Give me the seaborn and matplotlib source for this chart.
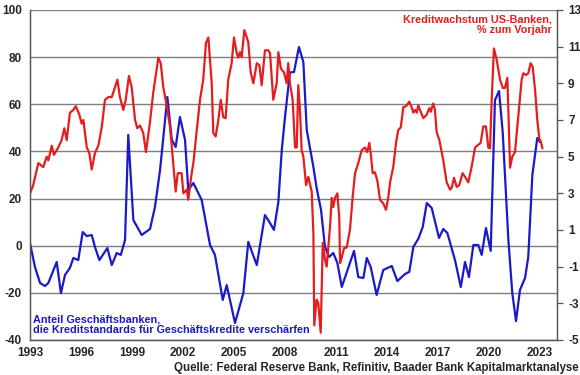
import pandas as pd
import matplotlib
matplotlib.use("Agg")
import matplotlib.pyplot as plt
import seaborn as sns

# -----------------------------------------------------------------------------
# 1. DATA
# -----------------------------------------------------------------------------
# Kreditwachstum US-Banken, % zum Vorjahr (right axis)
credit_years = [
    1993.00, 1993.19, 1993.49, 1993.78, 1993.98, 1994.08, 1994.28, 1994.41, 1994.66, 1994.86,
    1995.02, 1995.16, 1995.35, 1995.55, 1995.69, 1995.90, 1996.04, 1996.14, 1996.34, 1996.49,
    1996.63, 1996.82, 1997.02, 1997.22, 1997.41, 1997.61, 1997.81, 1997.90, 1998.14, 1998.29,
    1998.49, 1998.63, 1998.82, 1998.98, 1999.18, 1999.31, 1999.47, 1999.66, 1999.82, 2000.06,
    2000.25, 2000.55, 2000.69, 2000.84, 2001.04, 2001.24, 2001.39, 2001.57, 2001.69, 2001.92,
    2002.02, 2002.22, 2002.31, 2002.51, 2002.61, 2002.81, 2003.00, 2003.19, 2003.35, 2003.49,
    2003.69, 2003.78, 2003.92, 2004.08, 2004.22, 2004.37, 2004.51, 2004.66, 2004.86, 2005.00,
    2005.16, 2005.25, 2005.35, 2005.45, 2005.61, 2005.84, 2005.98, 2006.14, 2006.34, 2006.49,
    2006.63, 2006.82, 2007.02, 2007.12, 2007.31, 2007.51, 2007.61, 2007.76, 2007.94, 2008.10,
    2008.19, 2008.29, 2008.45, 2008.59, 2008.69, 2008.78, 2008.88, 2008.98, 2009.08, 2009.24,
    2009.37, 2009.57, 2009.67, 2009.72, 2009.86, 2009.96, 2010.10, 2010.22, 2010.35, 2010.45,
    2010.65, 2010.75, 2010.84, 2010.94, 2011.08, 2011.19, 2011.24, 2011.34, 2011.47, 2011.63,
    2011.82, 2011.98, 2012.12, 2012.31, 2012.51, 2012.71, 2012.84, 2012.96, 2013.04, 2013.16,
    2013.29, 2013.43, 2013.59, 2013.78, 2013.94, 2014.08, 2014.18, 2014.37, 2014.53, 2014.66,
    2014.81, 2014.96, 2015.12, 2015.31, 2015.45, 2015.55, 2015.65, 2015.75, 2015.84, 2015.94,
    2016.14, 2016.34, 2016.49, 2016.57, 2016.72, 2016.82, 2016.92, 2017.08, 2017.31, 2017.51,
    2017.71, 2017.81, 2017.94, 2018.10, 2018.25, 2018.45, 2018.59, 2018.78, 2018.98, 2019.18,
    2019.37, 2019.51, 2019.66, 2019.82, 2019.96, 2020.06, 2020.16, 2020.29, 2020.45, 2020.65,
    2020.81, 2020.94, 2021.08, 2021.24, 2021.37, 2021.53, 2021.72, 2021.92, 2022.02, 2022.18,
    2022.31, 2022.45, 2022.57, 2022.71, 2022.84, 2022.96, 2023.06, 2023.14,
]
credit_growth = [
    3.0, 3.45, 4.65, 4.43, 5.0, 4.8, 5.6, 5.1, 5.5, 5.9,
    6.55, 5.9, 7.4, 7.55, 7.75, 7.3, 6.8, 7.0, 5.5, 5.2,
    4.3, 5.2, 5.6, 6.6, 8.1, 8.25, 8.25, 8.5, 9.2, 8.25,
    7.55, 8.1, 9.4, 8.8, 7.0, 6.55, 6.7, 6.3, 5.25, 6.9,
    8.5, 10.4, 10.1, 8.8, 7.8, 6.6, 5.0, 3.1, 4.1, 4.1,
    3.0, 3.2, 2.65, 4.1, 4.65, 6.45, 8.1, 9.2, 11.2, 11.5,
    9.0, 6.3, 6.1, 7.0, 8.1, 7.15, 7.1, 9.2, 10.1, 11.5,
    10.65, 10.4, 10.7, 10.45, 11.9, 11.25, 9.6, 9.0, 10.1, 10.0,
    8.9, 10.8, 10.8, 10.65, 8.1, 9.0, 10.7, 9.8, 9.6, 9.0,
    10.1, 9.0, 8.1, 5.5, 5.5, 8.9, 7.55, 5.35, 5.0, 3.45,
    3.9, 3.1, 0.83, -4.2, -2.8, -3.0, -4.6, 0.3, -0.6, -1.0,
    1.2, 2.75, 2.25, 2.75, 3.0, 1.7, -0.8, -0.5, 0.0, 0.05,
    1.0, 2.8, 4.1, 4.65, 5.35, 5.5, 5.25, 5.75, 5.2, 4.1,
    4.15, 3.7, 2.65, 2.45, 2.1, 2.8, 3.6, 4.45, 5.75, 6.45,
    6.6, 7.7, 7.75, 8.0, 7.7, 7.4, 7.55, 7.4, 7.8, 7.55,
    7.1, 7.3, 7.65, 7.45, 7.9, 7.55, 6.35, 5.9, 4.8, 3.6,
    3.2, 3.3, 3.85, 3.35, 3.45, 4.1, 3.9, 3.6, 4.45, 5.5,
    5.65, 5.75, 6.65, 6.65, 5.5, 5.45, 8.1, 10.9, 10.3, 9.2,
    8.75, 8.75, 9.3, 4.4, 5.0, 5.25, 7.15, 9.2, 9.55, 9.45,
    9.55, 10.1, 9.9, 8.65, 7.0, 6.0, 5.8, 5.45,
]

# Anteil Geschaeftsbanken, die Kreditstandards verschaerfen (left axis)
sloos_years = [
    1993.00, 1993.29, 1993.59, 1993.88, 1994.08, 1994.57, 1994.82, 1995.06, 1995.35, 1995.55,
    1995.84, 1996.10, 1996.34, 1996.63, 1996.82, 1997.08, 1997.55, 1997.81, 1998.10, 1998.34,
    1998.59, 1998.78, 1999.08, 1999.57, 2000.06, 2000.35, 2000.65, 2001.08, 2001.34, 2001.57,
    2001.82, 2002.12, 2002.31, 2002.61, 2003.10, 2003.59, 2003.88, 2004.34, 2004.57, 2005.06,
    2005.55, 2005.84, 2006.34, 2006.82, 2007.08, 2007.35, 2007.61, 2007.81, 2008.00, 2008.29,
    2008.53, 2008.82, 2009.08, 2009.28, 2009.67, 2009.86, 2010.12, 2010.35, 2010.59, 2010.84,
    2011.08, 2011.34, 2012.06, 2012.31, 2012.61, 2012.81, 2013.04, 2013.39, 2013.78, 2014.28,
    2014.61, 2015.06, 2015.31, 2015.55, 2015.84, 2016.10, 2016.34, 2016.63, 2017.06, 2017.31,
    2017.55, 2018.00, 2018.34, 2018.59, 2018.82, 2019.08, 2019.37, 2019.57, 2019.82, 2020.10,
    2020.35, 2020.59, 2020.81, 2021.14, 2021.37, 2021.59, 2021.82, 2022.12, 2022.31, 2022.55,
    2022.84, 2023.00,
]
sloos_share = [
    1.15, -9.0, -15.8, -17.1, -15.8, -6.9, -20.1, -12.4, -9.4, -5.2,
    -6.1, 5.8, 4.1, 4.55, -0.5, -6.1, -1.0, -8.2, -3.1, -3.9,
    2.4, 47.0, 10.9, 4.55, 7.1, 16.4, 32.1, 63.1, 44.9, 41.9,
    54.6, 44.9, 23.6, 26.6, 19.4, 0.3, -3.9, -23.0, -16.7, -32.8,
    -20.1, 1.6, -8.2, 13.0, 10.1, 6.7, 18.6, 40.6, 54.6, 73.5,
    73.7, 84.3, 77.9, 49.1, 33.4, 24.5, 15.2, -0.5, -4.8, -3.1,
    -7.3, -17.5, -2.2, -13.3, -13.7, -5.2, -9.0, -20.9, -10.3, -8.6,
    -15.0, -12.0, -11.1, -0.5, 2.9, 7.9, 18.1, 16.0, 3.3, 7.1,
    5.4, -6.1, -17.5, -6.9, -13.3, 0.3, 0.3, -3.9, 7.5, -2.2,
    61.8, 65.6, 47.8, 2.4, -20.1, -32.0, -18.8, -13.7, -4.8, 30.0,
    45.7, 44.0,
]

left_ticks = [-40, -20, 0, 20, 40, 60, 80, 100]
right_ticks = [-5, -3, -1, 1, 3, 5, 7, 9, 11, 13]
year_ticks = [1993, 1996, 1999, 2002, 2005, 2008, 2011, 2014, 2017, 2020, 2023]

credit_df = pd.DataFrame({'year': credit_years, 'value': credit_growth})
sloos_df = pd.DataFrame({'year': sloos_years, 'value': sloos_share})

# -----------------------------------------------------------------------------
# 2. STYLE
# -----------------------------------------------------------------------------
sns.set_style("white")
plt.rcParams['font.family'] = ['Liberation Sans', 'DejaVu Sans']
plt.rcParams['font.weight'] = 'bold'
plt.rcParams['axes.unicode_minus'] = False  # plain hyphen like the original

RED = '#E41E1E'
BLUE = '#1A1AC8'

# -----------------------------------------------------------------------------
# 3. PLOT
# -----------------------------------------------------------------------------
fig = plt.figure(figsize=(5.8, 3.75), dpi=100)
ax = fig.add_axes([30 / 580, 1 - 340 / 375, 527 / 580, 330 / 375])

ax.set_ylim(-40, 100)
ax.set_yticks(left_ticks)
ax.yaxis.grid(True, color='#7f7f7f', linewidth=1.0)
ax.set_axisbelow(True)

sns.lineplot(data=sloos_df, x='year', y='value', ax=ax, color=BLUE, linewidth=1.6)

ax2 = ax.twinx()
sns.lineplot(data=credit_df, x='year', y='value', ax=ax2, color=RED, linewidth=1.6)
ax2.set_ylim(-5, 13)
ax2.set_yticks(right_ticks)

ax.set_xlim(1993, 2024)
ax.set_xticks(year_ticks)
ax.set_xlabel('')
ax.set_ylabel('')
ax2.set_ylabel('')

for a in (ax, ax2):
    for s in a.spines.values():
        s.set_color('#555555')
        s.set_linewidth(0.9)
    a.spines['top'].set_visible(False)

ax.tick_params(axis='y', length=0, pad=6, labelsize=8.5)
ax.tick_params(axis='x', direction='out', length=3, width=0.9, color='#555555',
               pad=2, labelsize=8.5)
ax2.tick_params(axis='y', direction='out', length=4, width=0.9, color='#555555',
                pad=4, labelsize=8.5)

# -----------------------------------------------------------------------------
# 4. LABELS
# -----------------------------------------------------------------------------
ax.text(0.99, 0.985, 'Kreditwachstum US-Banken,\n% zum Vorjahr', transform=ax.transAxes,
        ha='right', va='top', color=RED, fontsize=7.8, fontweight='bold', linespacing=1.05)
ax.text(0.006, 0.015, 'Anteil Geschäftsbanken,\ndie Kreditstandards für Geschäftskredite verschärfen',
        transform=ax.transAxes, ha='left', va='bottom', color=BLUE, fontsize=7.8,
        fontweight='bold', linespacing=1.05)
fig.text(0.997, 0.004, 'Quelle: Federal Reserve Bank, Refinitiv, Baader Bank Kapitalmarktanalyse',
         ha='right', va='bottom', fontsize=8.3, fontweight='bold')

fig.savefig('out.png', dpi=100)
